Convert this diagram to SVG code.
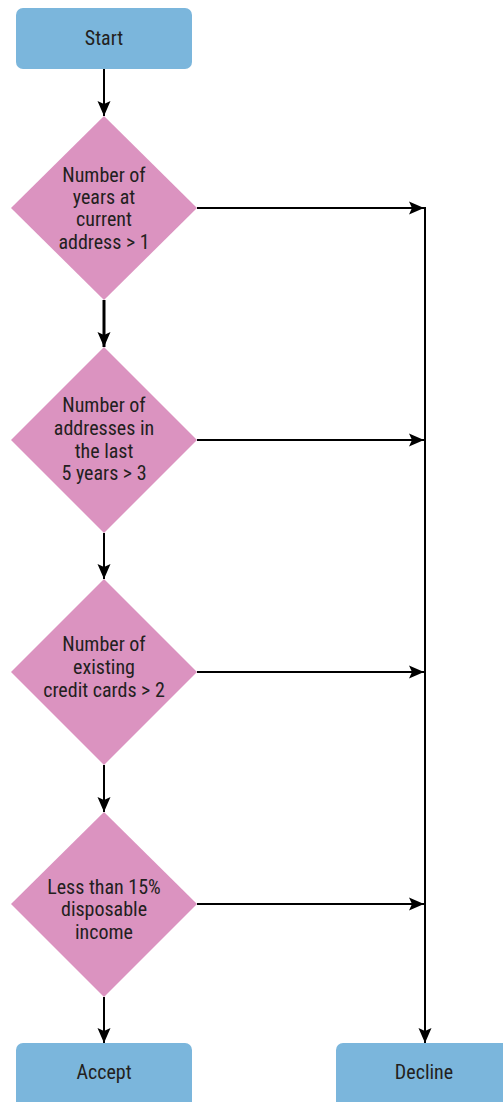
<svg xmlns="http://www.w3.org/2000/svg" width="503" height="1102" viewBox="0 0 503 1102">
  <defs>
    <!-- filled arrowhead with a slightly notched back -->
    <marker id="arrow" markerUnits="userSpaceOnUse" markerWidth="16" markerHeight="14" refX="15" refY="7" orient="auto">
      <path d="M0,0.5 L15,7 L0,13.5 L3,7 Z" fill="#000"/>
    </marker>
    <style>
      .term { fill: #7BB6DC; }
      .dec { fill: #DB93C0; }
      .lbl { font-family: "Liberation Sans Narrow", "Roboto Condensed", "Liberation Sans", sans-serif; font-stretch: condensed; font-size: 20px; fill: #231F20; text-anchor: middle; }
      .conn { fill: none; stroke: #000; stroke-width: 2; }
      .bold { stroke-width: 3; }
    </style>
  </defs>

  <rect width="503" height="1102" fill="#fff"/>

  <!-- connectors -->
  <g id="connectors">
    <line class="conn" x1="104" y1="69" x2="104" y2="116" marker-end="url(#arrow)"/>
    <line class="conn bold" x1="104" y1="300" x2="104" y2="347" marker-end="url(#arrow)"/>
    <line class="conn" x1="104" y1="533" x2="104" y2="579" marker-end="url(#arrow)"/>
    <line class="conn" x1="104" y1="765" x2="104" y2="812" marker-end="url(#arrow)"/>
    <line class="conn" x1="104" y1="997" x2="104" y2="1043" marker-end="url(#arrow)"/>

    <line class="conn" x1="197" y1="208" x2="424" y2="208" marker-end="url(#arrow)"/>
    <line class="conn" x1="197" y1="440" x2="424" y2="440" marker-end="url(#arrow)"/>
    <line class="conn" x1="197" y1="672" x2="424" y2="672" marker-end="url(#arrow)"/>
    <line class="conn" x1="197" y1="904" x2="424" y2="904" marker-end="url(#arrow)"/>

    <line class="conn" x1="425" y1="207" x2="425" y2="1043" marker-end="url(#arrow)"/>
  </g>

  <!-- start -->
  <g id="start">
    <rect class="term" x="16" y="8" width="176" height="61" rx="7"/>
    <text class="lbl" x="104" y="45">Start</text>
  </g>

  <!-- decision: years at address -->
  <g id="d1">
    <polygon class="dec" points="104,116 197,208 104,300 11,208"/>
    <text class="lbl" x="104" y="182">Number of</text>
    <text class="lbl" x="104" y="204">years at</text>
    <text class="lbl" x="104" y="226">current</text>
    <text class="lbl" x="104" y="249">address &gt; 1</text>
  </g>

  <!-- decision: addresses in 5 years -->
  <g id="d2">
    <polygon class="dec" points="104,347 197,440 104,533 11,440"/>
    <text class="lbl" x="104" y="412">Number of</text>
    <text class="lbl" x="104" y="435">addresses in</text>
    <text class="lbl" x="104" y="458">the last</text>
    <text class="lbl" x="104" y="480">5 years &gt; 3</text>
  </g>

  <!-- decision: credit cards -->
  <g id="d3">
    <polygon class="dec" points="104,579 197,672 104,765 11,672"/>
    <text class="lbl" x="104" y="651">Number of</text>
    <text class="lbl" x="104" y="674">existing</text>
    <text class="lbl" x="104" y="697">credit cards &gt; 2</text>
  </g>

  <!-- decision: disposable income -->
  <g id="d4">
    <polygon class="dec" points="104,812 197,904 104,997 11,904"/>
    <text class="lbl" x="104" y="894">Less than 15%</text>
    <text class="lbl" x="104" y="916">disposable</text>
    <text class="lbl" x="104" y="939">income</text>
  </g>

  <!-- outcomes -->
  <g id="accept">
    <rect class="term" x="16" y="1043" width="176" height="70" rx="7"/>
    <text class="lbl" x="104" y="1079">Accept</text>
  </g>
  <g id="decline">
    <rect class="term" x="336" y="1043" width="176" height="70" rx="7"/>
    <text class="lbl" x="424" y="1079">Decline</text>
  </g>
</svg>
